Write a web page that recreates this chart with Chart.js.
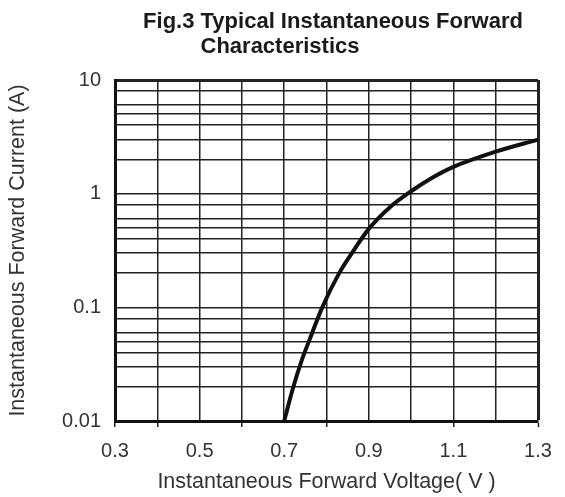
<!DOCTYPE html>
<html>
<head>
<meta charset="utf-8">
<script src="https://cdn.jsdelivr.net/npm/chart.js@4.4.1/dist/chart.umd.min.js"></script>
<style>
  html, body { margin: 0; padding: 0; background: #fff; }
</style>
</head>
<body>
<canvas id="fwdChart" width="565" height="497"></canvas>
<script>
// values
const voltage = [0.70, 0.72, 0.74, 0.76, 0.79, 0.83, 0.86, 0.90, 0.95, 1.00, 1.05, 1.10, 1.20, 1.30];
const current = [0.010, 0.019, 0.033, 0.052, 0.10, 0.20, 0.30, 0.49, 0.76, 1.05, 1.38, 1.72, 2.34, 2.99];

const xTicks = [0.3, 0.4, 0.5, 0.6, 0.7, 0.8, 0.9, 1.0, 1.1, 1.2, 1.3];
const xLabels = ['0.3', '0.5', '0.7', '0.9', '1.1', '1.3'];
const xTickMarks = ['0.3', '0.4', '0.6', '0.8', '1.1', '1.3'];
const yTicks = [0.01, 0.02, 0.03, 0.04, 0.05, 0.06, 0.08,
                0.1, 0.2, 0.3, 0.4, 0.5, 0.6, 0.8,
                1, 2, 3, 4, 5, 6, 8, 10];
const yLabels = ['0.01', '0.1', '1', '10'];
const titleLines = ['Fig.3 Typical Instantaneous Forward', 'Characteristics'];

const FONT = "'Liberation Sans', Arial, sans-serif";
const INK = '#1a1a1a';

// two-line heading, second line sits left of centre like the original
const headingPlugin = {
  id: 'heading',
  afterDraw(chart) {
    const ctx = chart.ctx;
    ctx.save();
    ctx.fillStyle = INK;
    ctx.font = 'bold 22px ' + FONT;
    ctx.textAlign = 'center';
    ctx.textBaseline = 'alphabetic';
    ctx.fillText(titleLines[0], 333, 28);
    ctx.fillText(titleLines[1], 280, 53);
    ctx.restore();
  }
};

const canvas = document.querySelector('#fwdChart');
new Chart(canvas, {
  type: 'line',
  data: {
    datasets: [{
      data: voltage.map((v, i) => ({ x: v, y: current[i] })),
      borderColor: '#111',
      borderWidth: 4,
      pointRadius: 0,
      cubicInterpolationMode: 'monotone',
      fill: false
    }]
  },
  options: {
    responsive: false,
    animation: false,
    layout: { padding: { top: 80, right: 27, left: 0, bottom: 0 } },
    plugins: {
      legend: { display: false },
      tooltip: { enabled: false },
      title: { display: false }
    },
    scales: {
      x: {
        type: 'linear',
        min: 0.3,
        max: 1.3,
        afterFit: (scale) => { scale.height = 76; },
        afterBuildTicks: (scale) => { scale.ticks = xTicks.map(v => ({ value: v })); },
        border: { display: true, width: 3, color: '#111' },
        grid: {
          color: '#222',
          lineWidth: (c) => (c.tick && Math.abs(c.tick.value - 1.3) < 1e-6) ? 3 : 1.5,
          tickLength: 6,
          tickColor: (c) => (c.tick && xTickMarks.includes(c.tick.value.toFixed(1))) ? '#222' : 'rgba(0,0,0,0)',
          tickWidth: 1.5
        },
        ticks: {
          autoSkip: false,
          maxRotation: 0,
          padding: 12,
          color: '#333',
          font: { family: FONT, size: 20 },
          callback: (value) => {
            const s = Number(value).toFixed(1);
            return xLabels.includes(s) ? s : '';
          }
        },
        title: {
          display: true,
          text: 'Instantaneous Forward Voltage( V )',
          color: '#333',
          font: { family: FONT, size: 21.5 },
          padding: { top: 0, bottom: 2 }
        }
      },
      y: {
        type: 'logarithmic',
        min: 0.01,
        max: 10,
        afterFit: (scale) => { scale.width = 115; },
        afterBuildTicks: (scale) => { scale.ticks = yTicks.map(v => ({ value: v })); },
        border: { display: true, width: 3, color: '#111' },
        grid: {
          color: '#222',
          lineWidth: (c) => (c.tick && c.tick.value === 10) ? 3 : 1.5,
          drawTicks: false
        },
        ticks: {
          autoSkip: false,
          padding: 14,
          color: '#333',
          font: { family: FONT, size: 20 },
          callback: (value) => {
            const s = String(value);
            return yLabels.includes(s) ? s : '';
          }
        },
        title: {
          display: true,
          text: 'Instantaneous Forward Current (A)',
          color: '#333',
          font: { family: FONT, size: 21.5 },
          padding: { top: 5, bottom: 0 }
        }
      }
    }
  },
  plugins: [headingPlugin]
});
</script>
</body>
</html>
